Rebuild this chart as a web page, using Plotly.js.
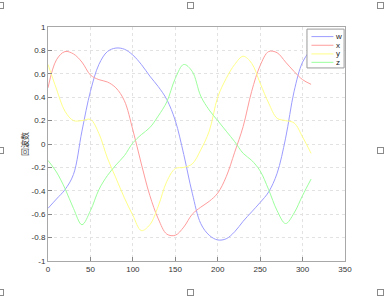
<!DOCTYPE html>
<html><head><meta charset="utf-8">
<script src="https://cdn.plot.ly/plotly-3.0.1.min.js"></script>
<style>
html,body{margin:0;padding:0;background:#fff;}
#wrap{position:relative;width:390px;height:299px;}
#chart{width:390px;height:299px;}
.h{position:absolute;width:5px;height:5px;border:1px solid #8a8a8a;background:#fff;}
</style></head><body>
<div id="wrap"><div id="chart"></div></div>
<script>
var xs = [0,10,20,30,40,50,60,70,80,90,100,110,120,130,140,150,160,170,180,190,200,210,220,230,240,250,260,270,280,290,300,310];
var wVals = [-0.55,-0.47,-0.39,-0.26,0.11,0.45,0.68,0.79,0.82,0.81,0.76,0.68,0.58,0.49,0.38,0.20,-0.09,-0.42,-0.68,-0.78,-0.82,-0.81,-0.75,-0.66,-0.58,-0.50,-0.41,-0.25,0.05,0.45,0.70,0.81];
var xVals = [0.48,0.72,0.79,0.77,0.70,0.59,0.55,0.53,0.48,0.37,0.12,-0.17,-0.44,-0.64,-0.77,-0.78,-0.71,-0.60,-0.54,-0.49,-0.42,-0.28,-0.07,0.15,0.45,0.67,0.79,0.78,0.70,0.62,0.55,0.51];
var yVals = [0.68,0.47,0.28,0.20,0.20,0.21,0.09,-0.12,-0.29,-0.46,-0.61,-0.74,-0.69,-0.53,-0.32,-0.21,-0.20,-0.17,-0.05,0.11,0.40,0.56,0.68,0.75,0.69,0.52,0.35,0.22,0.20,0.18,0.06,-0.08];
var zVals = [-0.14,-0.24,-0.38,-0.55,-0.69,-0.57,-0.39,-0.27,-0.18,-0.10,0.01,0.08,0.14,0.24,0.36,0.56,0.68,0.62,0.41,0.29,0.20,0.11,0.02,-0.08,-0.14,-0.23,-0.39,-0.57,-0.68,-0.59,-0.44,-0.30];
var names = ['w','x','y','z'];
var colors = ['#9c9cff','#ff9c9c','#ffff88','#9cff9c'];
var series = [wVals,xVals,yVals,zVals];
var yTicks = [-1,-0.8,-0.6,-0.4,-0.2,0,0.2,0.4,0.6,0.8,1];
var xTicks = [0,50,100,150,200,250,300,350];
var yLabel = '回波数';

var traces = series.map(function(s,i){
  return {x: xs, y: s, name: names[i], type:'scatter', mode:'lines',
    line:{color: colors[i], width:1, shape:'spline', smoothing:1}};
});
var ax = {showline:true, linecolor:'#a8a8a8', linewidth:1, mirror:true,
  ticks:'inside', ticklen:4, tickcolor:'#888', showgrid:true, gridcolor:'#e2e2e2',
  griddash:'dot', gridwidth:1, zeroline:false,
  tickfont:{family:'Liberation Sans, Arial, sans-serif', size:8, color:'#333'}};

// manual compact legend (paper coordinates)
var legRows = [0.959, 0.922, 0.885, 0.849];
var shapes = [{type:'rect', xref:'paper', yref:'paper', x0:0.872, x1:0.997, y0:0.825, y1:0.991,
  line:{color:'#9a9a9a', width:1}, fillcolor:'#fff', layer:'above'}];
var annotations = [];
names.forEach(function(n,i){
  shapes.push({type:'line', xref:'paper', yref:'paper', x0:0.887, x1:0.961, y0:legRows[i], y1:legRows[i],
    line:{color:colors[i], width:1}, layer:'above'});
  annotations.push({xref:'paper', yref:'paper', x:0.977, y:legRows[i], text:n, showarrow:false,
    xanchor:'center', yanchor:'middle', font:{family:'Liberation Sans, Arial, sans-serif', size:8, color:'#222'}});
});

var layout = {
  width:390, height:299,
  margin:{l:48, r:45, t:27, b:38},
  paper_bgcolor:'#fff', plot_bgcolor:'#fff',
  showlegend:false,
  xaxis: Object.assign({}, ax, {range:[0,350], tickvals:xTicks, ticktext:xTicks.map(String)}),
  yaxis: Object.assign({}, ax, {range:[-1,1], tickvals:yTicks, ticktext:yTicks.map(String),
    title:{text:yLabel, standoff:1, font:{family:'Noto Sans CJK SC', size:8, color:'#333'}}}),
  shapes: shapes,
  annotations: annotations
};
Plotly.newPlot('chart', traces, layout, {staticPlot:true, displayModeBar:false});

var wrap = document.getElementById('wrap');
[[0,5],[190,5],[380,5],[0,150],[380,150],[0,292],[190,292],[380,292]].forEach(function(p){
  var d = document.createElement('div'); d.className='h';
  d.style.left=(p[0]-3)+'px'; d.style.top=(p[1]-3)+'px'; wrap.appendChild(d);
});
</script>
</body></html>
